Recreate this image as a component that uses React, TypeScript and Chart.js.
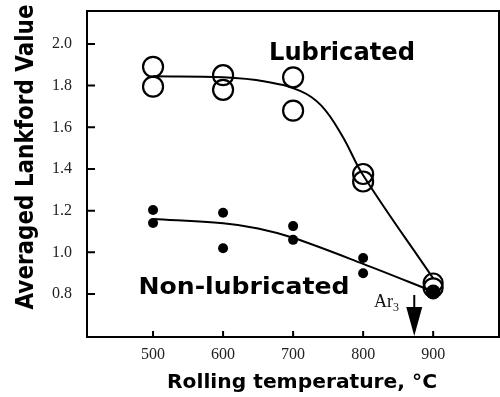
import React, { useEffect, useRef } from 'react';
import { Chart, registerables } from 'chart.js';

Chart.register(...registerables);

// ---- data ----
const xTicks = [500, 600, 700, 800, 900];
const yTicks = [0.8, 1.0, 1.2, 1.4, 1.6, 1.8, 2.0];

const lubTemp = [500, 500, 600, 600, 700, 700, 800, 800, 900, 900];
const lubValue = [1.89, 1.795, 1.85, 1.78, 1.84, 1.68, 1.376, 1.34, 0.853, 0.83];

const nonLubTemp = [500, 500, 600, 600, 700, 700, 800, 800, 900];
const nonLubValue = [1.203, 1.141, 1.19, 1.02, 1.126, 1.06, 0.973, 0.9, 0.81];

const lubFitTemp = [500, 600, 660, 710, 740, 770, 800, 900];
const lubFitValue = [1.845, 1.84, 1.82, 1.775, 1.705, 1.56, 1.37, 0.875];

const nonLubFitTemp = [500, 600, 650, 700, 800, 900];
const nonLubFitValue = [1.16, 1.14, 1.115, 1.07, 0.945, 0.812];

const ar3Temp = 873;

const xTitle = 'Rolling temperature, \u00B0C';
const yTitle = 'Averaged Lankford Value';
const lubLabel = 'Lubricated';
const nonLubLabel = 'Non-lubricated';
const arText = 'Ar';
const arSub = '3';

const xMin = 405.7;
const xMax = 994;
const yMin = 0.594;
const yMax = 2.158;

function zip(xs: number[], ys: number[]) {
  return xs.map((x, i) => ({ x, y: ys[i] }));
}

function fitText(
  ctx: CanvasRenderingContext2D,
  text: string,
  cx: number,
  by: number,
  width: number,
  font: string,
  rot = 0
) {
  ctx.save();
  ctx.font = font;
  const w = ctx.measureText(text).width;
  ctx.translate(cx, by);
  if (rot) ctx.rotate(rot);
  ctx.scale(width / w, 1);
  ctx.textAlign = 'center';
  ctx.textBaseline = 'alphabetic';
  ctx.fillStyle = '#000';
  ctx.fillText(text, 0, 0);
  ctx.restore();
}

const decor = {
  id: 'decor',
  afterDatasetsDraw(chart: any) {
    const { ctx, chartArea, scales } = chart;
    const { left, top, right, bottom } = chartArea;
    const x = scales.x;
    const y = scales.y;
    ctx.save();
    ctx.strokeStyle = '#000';
    ctx.lineWidth = 2;
    ctx.strokeRect(left, top, right - left, bottom - top);
    ctx.beginPath();
    yTicks.forEach((v) => {
      const py = y.getPixelForValue(v);
      ctx.moveTo(left, py);
      ctx.lineTo(left + 8, py);
    });
    xTicks.forEach((v) => {
      const px = x.getPixelForValue(v);
      ctx.moveTo(px, bottom);
      ctx.lineTo(px, bottom - 6);
    });
    ctx.stroke();

    // Ar3 arrow
    const ax = x.getPixelForValue(ar3Temp);
    ctx.beginPath();
    ctx.moveTo(ax, 295);
    ctx.lineTo(ax, 309);
    ctx.stroke();
    ctx.beginPath();
    ctx.moveTo(ax - 8, 307);
    ctx.lineTo(ax + 8, 307);
    ctx.lineTo(ax, bottom - 1);
    ctx.closePath();
    ctx.fillStyle = '#000';
    ctx.fill();

    ctx.fillStyle = '#111';
    ctx.textAlign = 'left';
    ctx.textBaseline = 'alphabetic';
    ctx.font = '18px "Liberation Serif"';
    ctx.fillText(arText, 374, 307);
    const aw = ctx.measureText(arText).width;
    ctx.font = '12px "Liberation Serif"';
    ctx.fillText(arSub, 374 + aw, 311);
    ctx.restore();

    // texts
    fitText(ctx, lubLabel, 342, 60, 146, 'bold 24px "DejaVu Sans"');
    fitText(ctx, nonLubLabel, 244, 294, 211, 'bold 23px "DejaVu Sans"');
    fitText(ctx, xTitle, 302, 388, 270, 'bold 20px "DejaVu Sans"');
    fitText(ctx, yTitle, 33, 157, 305, 'bold 24px "DejaVu Sans"', -Math.PI / 2);
  },
};

function noPad(s: any) {
  s.paddingTop = 0;
  s.paddingBottom = 0;
  s.paddingLeft = 0;
  s.paddingRight = 0;
}

export default function App() {
  const ref = useRef<HTMLCanvasElement | null>(null);
  useEffect(() => {
    document.body.style.margin = '0';
    const canvas = ref.current;
    if (!canvas) return;
    const chart = new Chart(canvas, {
      type: 'scatter',
      data: {
        datasets: [
          {
            label: nonLubLabel,
            data: zip(nonLubTemp, nonLubValue),
            order: 0,
            showLine: false,
            pointRadius: (c: any) => (c.dataIndex === 8 ? 7.5 : 5),
            pointBackgroundColor: '#000',
            pointBorderColor: '#000',
            pointBorderWidth: 0,
          },
          {
            label: lubLabel,
            data: zip(lubTemp, lubValue),
            order: 0,
            showLine: false,
            pointRadius: (c: any) => (c.dataIndex >= 8 ? 9.5 : 10),
            pointBackgroundColor: 'rgba(0,0,0,0)',
            pointBorderColor: '#000',
            pointBorderWidth: 2.2,
          },
          {
            label: 'lubFit',
            data: zip(lubFitTemp, lubFitValue),
            order: 1,
            showLine: true,
            pointRadius: 0,
            borderColor: '#000',
            borderWidth: 2,
            tension: 0.4,
          },
          {
            label: 'nonLubFit',
            data: zip(nonLubFitTemp, nonLubFitValue),
            order: 1,
            showLine: true,
            pointRadius: 0,
            borderColor: '#000',
            borderWidth: 2,
            tension: 0.35,
          },
        ],
      } as any,
      options: {
        animation: false,
        responsive: false,
        events: [],
        layout: { autoPadding: false, padding: { top: 11, right: 1, left: 0, bottom: 0 } },
        plugins: { legend: { display: false }, tooltip: { enabled: false } },
        scales: {
          x: {
            type: 'linear',
            min: xMin,
            max: xMax,
            border: { display: false },
            grid: { display: false, drawTicks: false },
            afterBuildTicks: (s: any) => {
              s.ticks = xTicks.map((v) => ({ value: v }));
            },
            afterFit: (s: any) => {
              s.height = 60;
              noPad(s);
            },
            ticks: {
              padding: 8,
              color: '#222',
              font: { family: '"Liberation Serif"', size: 16 },
              maxRotation: 0,
              autoSkip: false,
              callback: (v: any) => String(v),
            },
          },
          y: {
            type: 'linear',
            min: yMin,
            max: yMax,
            border: { display: false },
            grid: { display: false, drawTicks: false },
            afterBuildTicks: (s: any) => {
              s.ticks = yTicks.map((v) => ({ value: v }));
            },
            afterFit: (s: any) => {
              s.width = 87;
              noPad(s);
            },
            ticks: {
              padding: 15,
              color: '#222',
              font: { family: '"Liberation Serif"', size: 16 },
              autoSkip: false,
              callback: (v: any) => Number(v).toFixed(1),
            },
          },
        },
      } as any,
      plugins: [decor],
    });
    return () => chart.destroy();
  }, []);
  return (
    <div style={{ width: 500, height: 397, background: '#fff' }}>
      <canvas ref={ref} width={500} height={397} style={{ display: 'block' }} />
    </div>
  );
}
